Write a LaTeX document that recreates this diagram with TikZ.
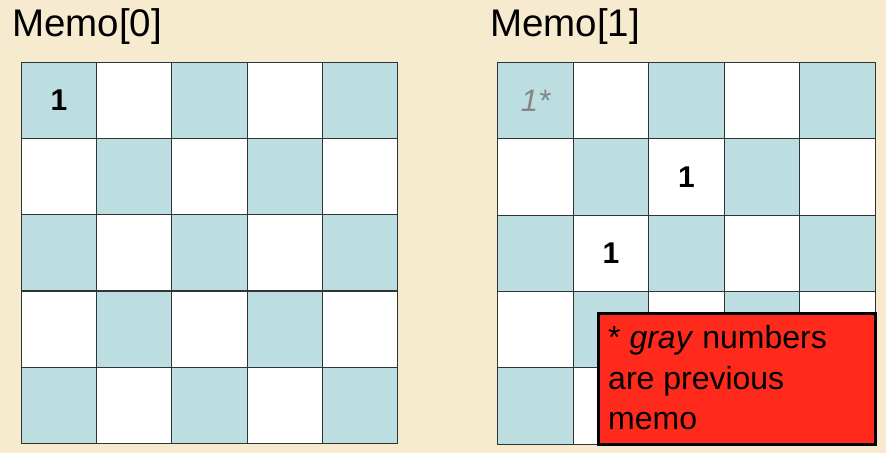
\documentclass[tikz,border=0pt]{standalone}
\usepackage{fontspec}
\setmainfont{Liberation Sans}
\definecolor{parch}{HTML}{F7EBCF}
\definecolor{teal}{HTML}{BCDEE0}
\definecolor{gridline}{HTML}{2F3535}
\definecolor{notered}{HTML}{FF2A1C}
\definecolor{prevgray}{HTML}{858585}
\begin{document}
\begin{tikzpicture}[x=1pt,y=-1pt,
  cell/.style={draw=gridline,line width=1.1pt,minimum width=75.4pt,minimum height=76.3pt,inner sep=0pt,anchor=north west},
  title/.style={anchor=base west,inner sep=0pt,font=\fontsize{38.5}{40}\selectfont},
  num/.style={font=\fontsize{30}{32}\selectfont\bfseries},
  prevnum/.style={font=\fontsize{31}{32}\selectfont\itshape,text=prevgray},
  notebox/.style={draw=black,line width=3pt,fill=notered,anchor=north west,minimum width=277pt,minimum height=131pt,inner sep=0pt},
  notetxt/.style={anchor=base west,inner sep=0pt,font=\fontsize{32}{40}\selectfont}]
\fill[parch] (0,0) rectangle (886,453);
\useasboundingbox (0,0) rectangle (886,453);
\node[title] (t0) at (12,36) {Memo[0]};
\node[title] (t1) at (490,36) {Memo[1]};
\foreach \r in {0,...,4}{
  \foreach \c in {0,...,4}{
    \pgfmathparse{int(mod(\r+\c,2))}
    \ifnum\pgfmathresult=0
      \node[cell,fill=teal] (L-\r-\c) at ({20.7+75.3*\c},{61.5+76.3*\r}) {};
      \node[cell,fill=teal] (R-\r-\c) at ({497.3+75.5*\c},{62+76.3*\r}) {};
    \else
      \node[cell,fill=white] (L-\r-\c) at ({20.7+75.3*\c},{61.5+76.3*\r}) {};
      \node[cell,fill=white] (R-\r-\c) at ({497.3+75.5*\c},{62+76.3*\r}) {};
    \fi
  }
}
\node[num] (n0) at (L-0-0.center) {1};
\node[prevnum] (p0) at (R-0-0.center) {1*};
\node[num] (n1) at (R-1-2.center) {1};
\node[num] (n2) at (R-2-1.center) {1};
\node[notebox] (note) at (597,312) {};
\node[notetxt] (note1) at (608,348) {* \textit{gray} numbers};
\node[notetxt] (note2) at (608,389) {are previous};
\node[notetxt] (note3) at (608,429) {memo};
\end{tikzpicture}
\end{document}
